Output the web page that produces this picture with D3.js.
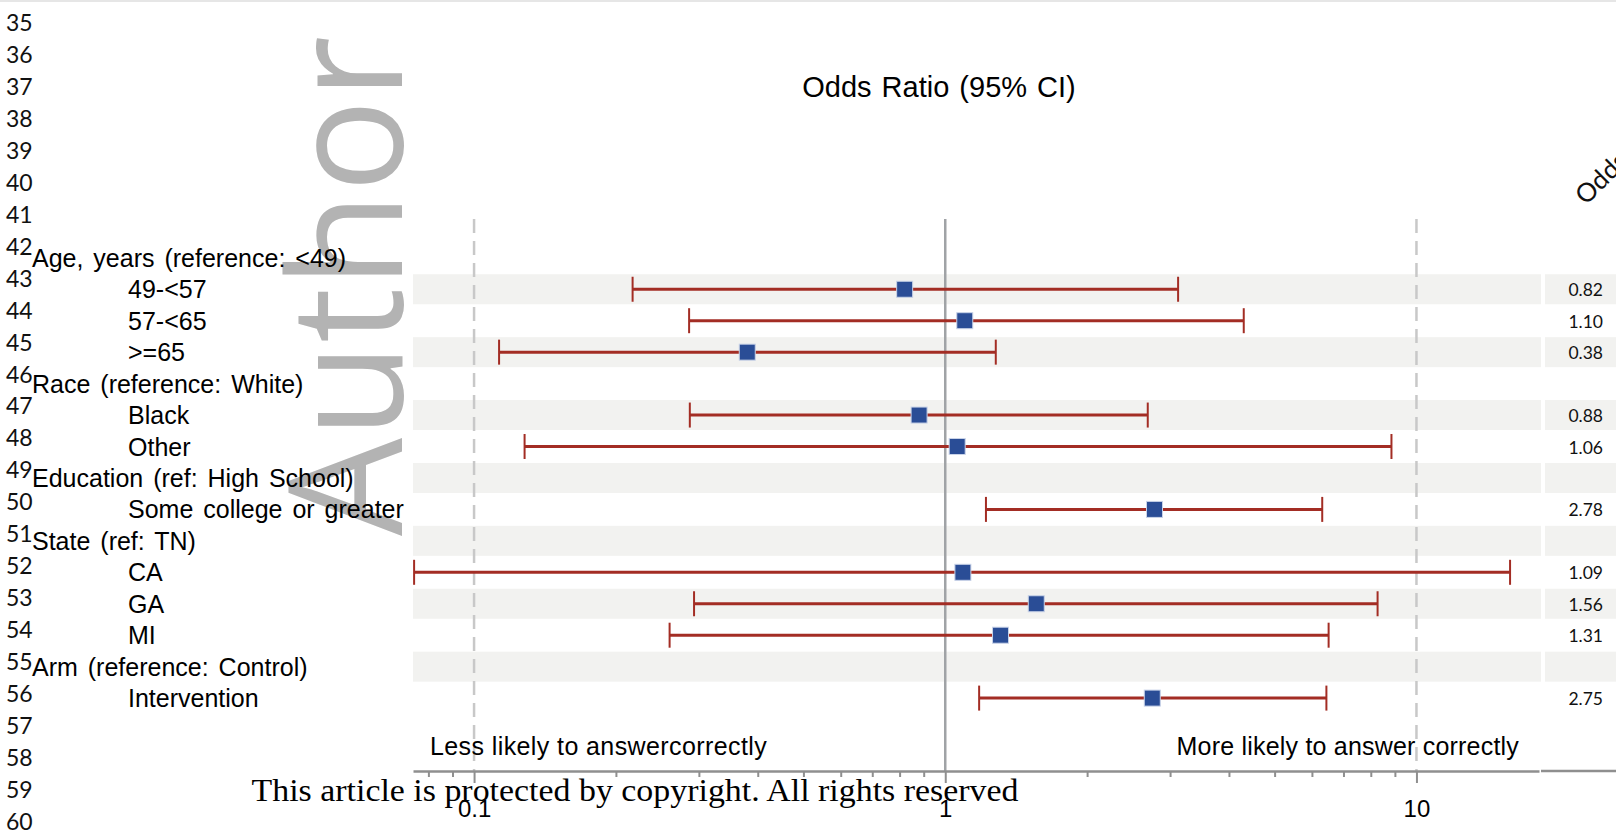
<!DOCTYPE html>
<html>
<head>
<meta charset="utf-8">
<script src="https://cdn.jsdelivr.net/npm/d3@7"></script>
<style>
  html, body { margin: 0; padding: 0; background: #fff; }
  svg { display: block; }
</style>
</head>
<body>
<div id="chart"></div>
<script>
// ── Data ──────────────────────────────────────────────────────────────────
const rowLabels = [
  "Age, years (reference: <49)", "49-<57", "57-<65", ">=65",
  "Race (reference: White)", "Black", "Other",
  "Education (ref: High School)", "Some college or greater",
  "State (ref: TN)", "CA", "GA", "MI",
  "Arm (reference: Control)", "Intervention"
];
const rowIsHeader = [true, false, false, false, true, false, false, true, false, true, false, false, false, true, false];
const oddsRatio = [null, 0.82, 1.10, 0.38, null, 0.88, 1.06, null, 2.78, null, 1.09, 1.56, 1.31, null, 2.75];
const ciLower   = [null, 0.217, 0.286, 0.113, null, 0.287, 0.128, null, 1.22, null, 0.0746, 0.293, 0.26, null, 1.18];
const ciUpper   = [null, 3.12, 4.30, 1.28, null, 2.69, 8.85, null, 6.31, null, 15.8, 8.27, 6.51, null, 6.44];

const xDomain    = [0.0742, 18.2];
const majorTicks = [0.1, 1, 10];
const minorTicks = [0.08, 0.09, 0.2, 0.3, 0.4, 0.5, 0.6, 0.7, 0.8, 0.9, 2, 3, 4, 5, 6, 7, 8, 9];
const guideLines = [0.1, 10];
const nullValue  = 1;
const lineNumbers = [35, 36, 37, 38, 39, 40, 41, 42, 43, 44, 45, 46, 47, 48, 49, 50, 51, 52, 53, 54, 55, 56, 57, 58, 59, 60];

const rows = rowLabels.map((label, i) => ({
  i, label, header: rowIsHeader[i], or: oddsRatio[i], lo: ciLower[i], hi: ciUpper[i]
}));

// ── Layout ────────────────────────────────────────────────────────────────
const width = 1616, height = 835;
const plotLeft = 413, plotRight = 1539;
const plotTop = 219, axisY = 771;
const rowStep = 31.45;
const rowStart = 257.8 - rowStep / 2;

const x = d3.scaleLog().domain(xDomain).range([plotLeft, plotRight]);
const y = d3.scaleBand()
  .domain(d3.range(rows.length + 1))
  .range([rowStart, rowStart + rowStep * (rows.length + 1)]);
const yc = i => y(i) + y.bandwidth() / 2;
const yNum = d3.scaleLinear().domain([35, 60]).range([31.2, 829.7]);

const svg = d3.select("#chart").append("svg")
  .attr("width", width)
  .attr("height", height)
  .attr("viewBox", [0, 0, width, height])
  .style("font-family", "'Liberation Sans', Arial, sans-serif");

svg.append("rect").attr("x", 0).attr("y", 0).attr("width", width).attr("height", 2).attr("fill", "#e6e6e6");

// ── Watermark ─────────────────────────────────────────────────────────────
svg.append("text")
  .attr("transform", "translate(402,536) rotate(-90)")
  .attr("textLength", 500)
  .attr("lengthAdjust", "spacingAndGlyphs")
  .style("font-family", "'Open Sans', sans-serif")
  .style("font-size", "158px")
  .attr("fill", "#b3b3b3")
  .text("Author");

// ── Line numbers ──────────────────────────────────────────────────────────
svg.append("g")
  .selectAll("text")
  .data(lineNumbers)
  .join("text")
  .attr("x", 6)
  .attr("y", d => yNum(d))
  .style("font-family", "Lato, sans-serif")
  .style("font-size", "23px")
  .attr("fill", "#111")
  .text(d => d);

// ── Row bands ─────────────────────────────────────────────────────────────
const shaded = rows.filter(d => d.i % 2 === 1);
svg.append("g")
  .selectAll("rect")
  .data(shaded)
  .join("rect")
  .attr("x", plotLeft)
  .attr("width", 1541 - plotLeft)
  .attr("y", d => yc(d.i) - 15)
  .attr("height", 30)
  .attr("fill", "#f2f2f0");

svg.append("g")
  .selectAll("rect")
  .data(shaded)
  .join("rect")
  .attr("x", 1545)
  .attr("width", width - 1545)
  .attr("y", d => yc(d.i) - 15)
  .attr("height", 30)
  .attr("fill", "#f2f2f0");

// ── Row labels ────────────────────────────────────────────────────────────
svg.append("g")
  .selectAll("text")
  .data(rows)
  .join("text")
  .attr("x", d => d.header ? 32 : 128)
  .attr("y", d => yc(d.i) + 9)
  .style("font-size", "25px")
  .style("word-spacing", "3px")
  .attr("fill", "#000")
  .text(d => d.label);

// ── Reference lines ───────────────────────────────────────────────────────
svg.append("g")
  .selectAll("line")
  .data(guideLines)
  .join("line")
  .attr("x1", d => x(d)).attr("x2", d => x(d))
  .attr("y1", plotTop).attr("y2", axisY)
  .attr("stroke", "#c8c8c8")
  .attr("stroke-width", 2.5)
  .attr("stroke-dasharray", "14,8");

svg.append("line")
  .attr("x1", x(nullValue)).attr("x2", x(nullValue))
  .attr("y1", plotTop).attr("y2", axisY)
  .attr("stroke", "#a0a3a6")
  .attr("stroke-width", 2.5);

// ── Confidence intervals ──────────────────────────────────────────────────
const est = rows.filter(d => d.or != null);
const ci = svg.append("g").attr("stroke", "#a32d24").attr("fill", "none");

ci.selectAll("line.bar")
  .data(est)
  .join("line")
  .attr("class", "bar")
  .attr("x1", d => x(d.lo)).attr("x2", d => x(d.hi))
  .attr("y1", d => yc(d.i)).attr("y2", d => yc(d.i))
  .attr("stroke-width", 3);

ci.selectAll("line.capl")
  .data(est)
  .join("line")
  .attr("class", "capl")
  .attr("x1", d => x(d.lo)).attr("x2", d => x(d.lo))
  .attr("y1", d => yc(d.i) - 12.5).attr("y2", d => yc(d.i) + 12.5)
  .attr("stroke-width", 2);

ci.selectAll("line.caph")
  .data(est)
  .join("line")
  .attr("class", "caph")
  .attr("x1", d => x(d.hi)).attr("x2", d => x(d.hi))
  .attr("y1", d => yc(d.i) - 12.5).attr("y2", d => yc(d.i) + 12.5)
  .attr("stroke-width", 2);

svg.append("g")
  .selectAll("rect")
  .data(est)
  .join("rect")
  .attr("x", d => x(d.or) - 8)
  .attr("y", d => yc(d.i) - 8)
  .attr("width", 16)
  .attr("height", 16)
  .attr("fill", "#2a4d96")
  .attr("stroke", "#c9d3e8")
  .attr("stroke-width", 1);

// ── OR column ─────────────────────────────────────────────────────────────
svg.append("g")
  .selectAll("text")
  .data(est)
  .join("text")
  .attr("x", 1603)
  .attr("y", d => yc(d.i) + 7)
  .attr("text-anchor", "end")
  .style("font-family", "Lato, sans-serif")
  .style("font-size", "17.5px")
  .attr("fill", "#111")
  .text(d => d3.format(".2f")(d.or));

svg.append("text")
  .attr("transform", "translate(1586,206) rotate(-45)")
  .style("font-family", "Lato, sans-serif")
  .style("font-size", "26px")
  .attr("fill", "#111")
  .text("Odds Ratio");

// ── Axis ──────────────────────────────────────────────────────────────────
const axis = svg.append("g")
  .attr("transform", `translate(0,${axisY})`)
  .call(d3.axisBottom(x).tickValues(majorTicks).tickSize(12).tickSizeOuter(0).tickPadding(17)
    .tickFormat(d => d3.format("~g")(d)));
axis.select(".domain").attr("stroke", "#8f8f8f").attr("stroke-width", 2.5);
axis.selectAll(".tick line").attr("stroke", "#8f8f8f").attr("stroke-width", 2);
axis.selectAll(".tick text")
  .attr("fill", "#000")
  .style("font-family", "'Liberation Sans', Arial, sans-serif")
  .style("font-size", "24px");

const minor = svg.append("g")
  .attr("transform", `translate(0,${axisY})`)
  .call(d3.axisBottom(x).tickValues(minorTicks).tickSize(6).tickSizeOuter(0).tickFormat(""));
minor.select(".domain").remove();
minor.selectAll(".tick line").attr("stroke", "#8f8f8f").attr("stroke-width", 2);

svg.append("line")
  .attr("x1", 1541).attr("x2", width)
  .attr("y1", axisY).attr("y2", axisY)
  .attr("stroke", "#8f8f8f")
  .attr("stroke-width", 2.5);

// ── Titles and notes ──────────────────────────────────────────────────────
svg.append("text")
  .attr("x", 939).attr("y", 97)
  .attr("text-anchor", "middle")
  .style("font-size", "29px")
  .style("word-spacing", "2px")
  .text("Odds Ratio (95% CI)");

svg.append("text")
  .attr("x", 430).attr("y", 755)
  .style("font-size", "25px")
  .style("letter-spacing", "0.4px")
  .text("Less likely to answercorrectly");

svg.append("text")
  .attr("x", 1519).attr("y", 755)
  .attr("text-anchor", "end")
  .style("font-size", "25px")
  .style("letter-spacing", "0.2px")
  .text("More likely to answer correctly");

svg.append("text")
  .attr("x", 251.5).attr("y", 801)
  .attr("textLength", 767)
  .attr("lengthAdjust", "spacingAndGlyphs")
  .style("font-family", "'Liberation Serif', 'DejaVu Serif', serif")
  .style("font-size", "31px")
  .attr("fill", "#000")
  .text("This article is protected by copyright. All rights reserved");
</script>
</body>
</html>
